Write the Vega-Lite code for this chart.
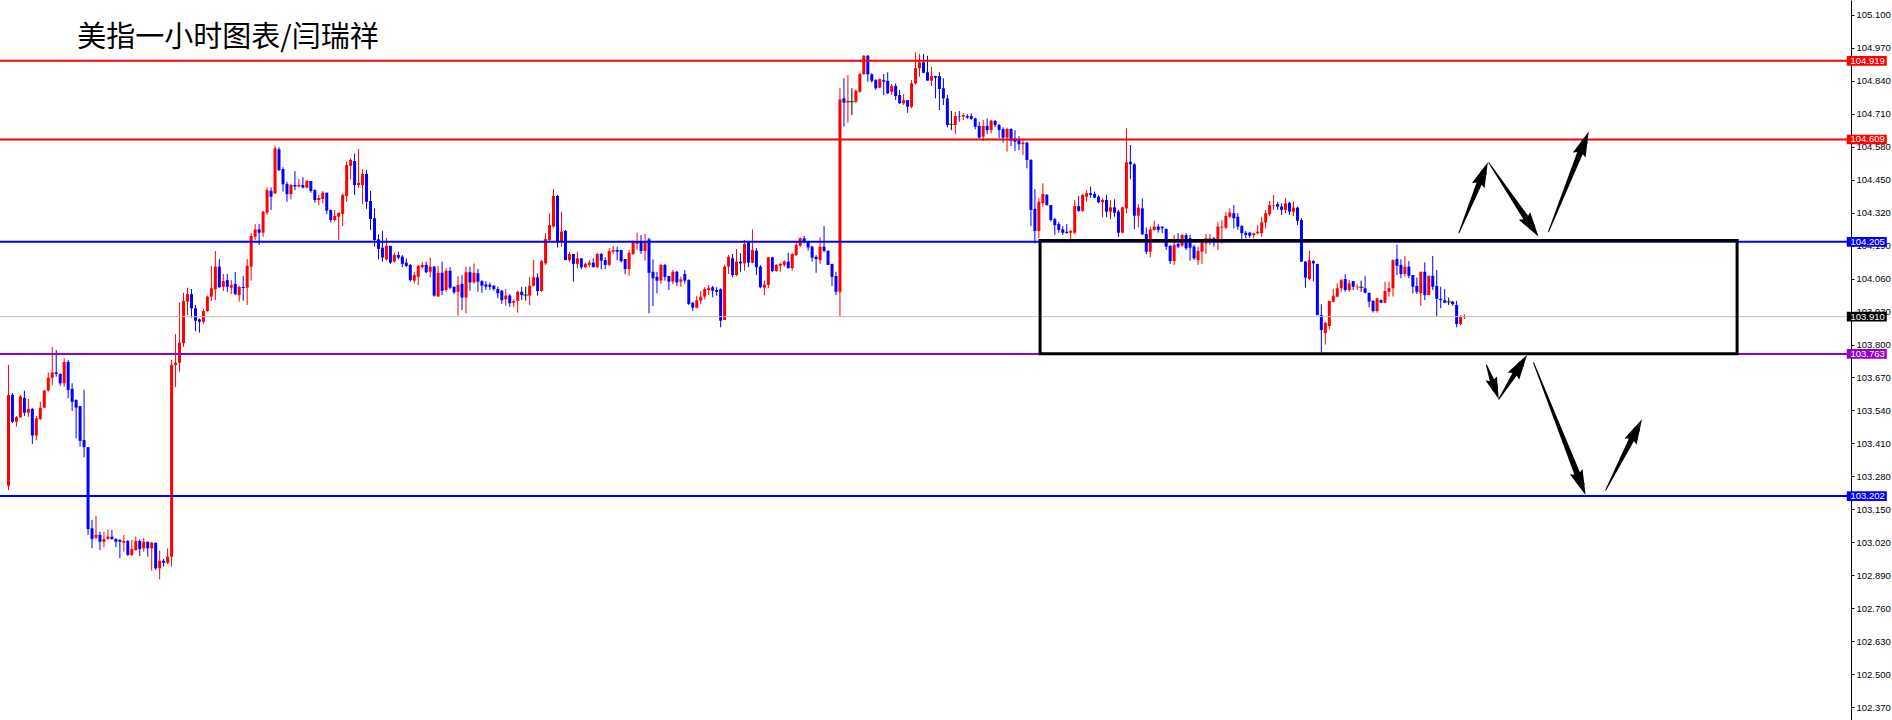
{
"$schema":"https://vega.github.io/schema/vega-lite/v6.json",
"width":1851,"height":720,"autosize":"none",
"padding":{"left":0,"top":0,"right":41,"bottom":0},
"background":"white",
"config":{"view":{"stroke":null},"axisY":{"title":null,"grid":false,"labelOverlap":false}},
"resolve":{"axis":{"y":"independent"}},
"datasets":{
"candles":[
{"i":0,"o":103.243,"h":103.719,"l":103.226,"c":103.601},
{"i":1,"o":103.601,"h":103.609,"l":103.490,"c":103.495},
{"i":2,"o":103.495,"h":103.518,"l":103.476,"c":103.513},
{"i":3,"o":103.513,"h":103.601,"l":103.510,"c":103.595},
{"i":4,"o":103.589,"h":103.618,"l":103.518,"c":103.531},
{"i":5,"o":103.531,"h":103.585,"l":103.515,"c":103.546},
{"i":6,"o":103.546,"h":103.550,"l":103.408,"c":103.441},
{"i":7,"o":103.441,"h":103.518,"l":103.423,"c":103.509},
{"i":8,"o":103.506,"h":103.574,"l":103.502,"c":103.551},
{"i":9,"o":103.551,"h":103.621,"l":103.550,"c":103.618},
{"i":10,"o":103.618,"h":103.690,"l":103.614,"c":103.669},
{"i":11,"o":103.669,"h":103.791,"l":103.640,"c":103.690},
{"i":12,"o":103.690,"h":103.778,"l":103.673,"c":103.684},
{"i":13,"o":103.684,"h":103.686,"l":103.637,"c":103.647},
{"i":14,"o":103.647,"h":103.746,"l":103.633,"c":103.731},
{"i":15,"o":103.731,"h":103.739,"l":103.588,"c":103.621},
{"i":16,"o":103.625,"h":103.647,"l":103.538,"c":103.574},
{"i":17,"o":103.581,"h":103.584,"l":103.430,"c":103.551},
{"i":18,"o":103.557,"h":103.557,"l":103.397,"c":103.420},
{"i":19,"o":103.423,"h":103.621,"l":103.355,"c":103.395},
{"i":20,"o":103.395,"h":103.395,"l":103.049,"c":103.072},
{"i":21,"o":103.075,"h":103.108,"l":102.996,"c":103.033},
{"i":22,"o":103.038,"h":103.124,"l":103.032,"c":103.049},
{"i":23,"o":103.049,"h":103.062,"l":102.989,"c":103.022},
{"i":24,"o":103.022,"h":103.062,"l":103.000,"c":103.033},
{"i":25,"o":103.033,"h":103.071,"l":103.029,"c":103.042},
{"i":26,"o":103.042,"h":103.068,"l":103.029,"c":103.033},
{"i":27,"o":103.033,"h":103.036,"l":103.000,"c":103.022},
{"i":28,"o":103.029,"h":103.032,"l":102.957,"c":103.022},
{"i":29,"o":103.018,"h":103.049,"l":102.983,"c":103.025},
{"i":30,"o":103.025,"h":103.029,"l":102.966,"c":102.970},
{"i":31,"o":102.970,"h":103.029,"l":102.966,"c":102.993},
{"i":32,"o":102.989,"h":103.042,"l":102.987,"c":103.025},
{"i":33,"o":103.025,"h":103.032,"l":102.966,"c":102.993},
{"i":34,"o":102.996,"h":103.036,"l":102.983,"c":103.022},
{"i":35,"o":103.022,"h":103.022,"l":102.963,"c":102.996},
{"i":36,"o":102.996,"h":103.022,"l":102.908,"c":103.018},
{"i":37,"o":103.018,"h":103.018,"l":102.911,"c":102.917},
{"i":38,"o":102.917,"h":102.987,"l":102.874,"c":102.947},
{"i":39,"o":102.947,"h":102.954,"l":102.924,"c":102.939},
{"i":40,"o":102.939,"h":102.996,"l":102.934,"c":102.963},
{"i":41,"o":102.963,"h":103.739,"l":102.924,"c":103.719},
{"i":42,"o":103.719,"h":103.841,"l":103.632,"c":103.728},
{"i":43,"o":103.728,"h":103.965,"l":103.693,"c":103.807},
{"i":44,"o":103.805,"h":104.004,"l":103.791,"c":103.972},
{"i":45,"o":103.969,"h":104.024,"l":103.916,"c":103.999},
{"i":46,"o":103.999,"h":104.019,"l":103.906,"c":103.943},
{"i":47,"o":103.943,"h":103.956,"l":103.853,"c":103.894},
{"i":48,"o":103.899,"h":103.903,"l":103.847,"c":103.890},
{"i":49,"o":103.890,"h":103.940,"l":103.881,"c":103.932},
{"i":50,"o":103.932,"h":103.993,"l":103.929,"c":103.989},
{"i":51,"o":103.989,"h":104.110,"l":103.972,"c":104.022},
{"i":52,"o":104.018,"h":104.169,"l":103.975,"c":104.107},
{"i":53,"o":104.107,"h":104.137,"l":104.022,"c":104.026},
{"i":54,"o":104.028,"h":104.078,"l":104.011,"c":104.050},
{"i":55,"o":104.054,"h":104.078,"l":104.008,"c":104.028},
{"i":56,"o":104.024,"h":104.054,"l":103.999,"c":104.035},
{"i":57,"o":104.039,"h":104.086,"l":103.995,"c":103.999},
{"i":58,"o":103.995,"h":104.031,"l":103.969,"c":104.027},
{"i":59,"o":104.027,"h":104.070,"l":103.973,"c":104.023},
{"i":60,"o":104.024,"h":104.137,"l":103.956,"c":104.110},
{"i":61,"o":104.107,"h":104.241,"l":104.052,"c":104.228},
{"i":62,"o":104.225,"h":104.275,"l":104.212,"c":104.254},
{"i":63,"o":104.254,"h":104.275,"l":104.193,"c":104.241},
{"i":64,"o":104.241,"h":104.327,"l":104.225,"c":104.324},
{"i":65,"o":104.320,"h":104.420,"l":104.311,"c":104.409},
{"i":66,"o":104.406,"h":104.420,"l":104.331,"c":104.383},
{"i":67,"o":104.396,"h":104.583,"l":104.394,"c":104.574},
{"i":68,"o":104.570,"h":104.578,"l":104.484,"c":104.488},
{"i":69,"o":104.492,"h":104.499,"l":104.403,"c":104.432},
{"i":70,"o":104.433,"h":104.442,"l":104.363,"c":104.393},
{"i":71,"o":104.393,"h":104.433,"l":104.373,"c":104.429},
{"i":72,"o":104.429,"h":104.484,"l":104.409,"c":104.423},
{"i":73,"o":104.423,"h":104.453,"l":104.420,"c":104.429},
{"i":74,"o":104.429,"h":104.460,"l":104.416,"c":104.419},
{"i":75,"o":104.419,"h":104.449,"l":104.416,"c":104.445},
{"i":76,"o":104.445,"h":104.445,"l":104.399,"c":104.406},
{"i":77,"o":104.409,"h":104.413,"l":104.359,"c":104.370},
{"i":78,"o":104.370,"h":104.390,"l":104.348,"c":104.378},
{"i":79,"o":104.374,"h":104.406,"l":104.357,"c":104.399},
{"i":80,"o":104.399,"h":104.399,"l":104.315,"c":104.328},
{"i":81,"o":104.331,"h":104.331,"l":104.281,"c":104.291},
{"i":82,"o":104.291,"h":104.331,"l":104.285,"c":104.307},
{"i":83,"o":104.304,"h":104.320,"l":104.212,"c":104.320},
{"i":84,"o":104.315,"h":104.396,"l":104.267,"c":104.390},
{"i":85,"o":104.386,"h":104.521,"l":104.363,"c":104.508},
{"i":86,"o":104.505,"h":104.535,"l":104.452,"c":104.528},
{"i":87,"o":104.524,"h":104.554,"l":104.390,"c":104.429},
{"i":88,"o":104.429,"h":104.571,"l":104.419,"c":104.438},
{"i":89,"o":104.429,"h":104.492,"l":104.354,"c":104.473},
{"i":90,"o":104.473,"h":104.488,"l":104.335,"c":104.363},
{"i":91,"o":104.366,"h":104.406,"l":104.252,"c":104.295},
{"i":92,"o":104.298,"h":104.337,"l":104.186,"c":104.212},
{"i":93,"o":104.215,"h":104.235,"l":104.136,"c":104.177},
{"i":94,"o":104.182,"h":104.248,"l":104.127,"c":104.143},
{"i":95,"o":104.136,"h":104.221,"l":104.131,"c":104.189},
{"i":96,"o":104.189,"h":104.189,"l":104.118,"c":104.123},
{"i":97,"o":104.127,"h":104.162,"l":104.123,"c":104.153},
{"i":98,"o":104.153,"h":104.166,"l":104.136,"c":104.143},
{"i":99,"o":104.147,"h":104.153,"l":104.105,"c":104.118},
{"i":100,"o":104.123,"h":104.140,"l":104.105,"c":104.110},
{"i":101,"o":104.114,"h":104.118,"l":104.048,"c":104.054},
{"i":102,"o":104.052,"h":104.087,"l":104.041,"c":104.074},
{"i":103,"o":104.067,"h":104.114,"l":104.035,"c":104.110},
{"i":104,"o":104.105,"h":104.127,"l":104.098,"c":104.114},
{"i":105,"o":104.114,"h":104.127,"l":104.081,"c":104.085},
{"i":106,"o":104.087,"h":104.143,"l":104.065,"c":104.107},
{"i":107,"o":104.107,"h":104.110,"l":103.989,"c":103.993},
{"i":108,"o":103.989,"h":104.110,"l":103.989,"c":104.083},
{"i":109,"o":104.083,"h":104.127,"l":103.995,"c":104.012},
{"i":110,"o":104.015,"h":104.101,"l":104.008,"c":104.091},
{"i":111,"o":104.091,"h":104.105,"l":104.018,"c":104.024},
{"i":112,"o":104.028,"h":104.028,"l":103.999,"c":104.006},
{"i":113,"o":104.008,"h":104.070,"l":103.914,"c":104.035},
{"i":114,"o":104.039,"h":104.074,"l":103.936,"c":103.985},
{"i":115,"o":103.985,"h":104.107,"l":103.923,"c":104.085},
{"i":116,"o":104.085,"h":104.107,"l":104.012,"c":104.045},
{"i":117,"o":104.045,"h":104.120,"l":104.041,"c":104.083},
{"i":118,"o":104.081,"h":104.098,"l":104.008,"c":104.048},
{"i":119,"o":104.050,"h":104.054,"l":104.004,"c":104.032},
{"i":120,"o":104.037,"h":104.050,"l":104.015,"c":104.028},
{"i":121,"o":104.036,"h":104.044,"l":104.015,"c":104.028},
{"i":122,"o":104.032,"h":104.035,"l":104.012,"c":104.019},
{"i":123,"o":104.019,"h":104.028,"l":103.982,"c":104.002},
{"i":124,"o":104.012,"h":104.015,"l":103.960,"c":103.975},
{"i":125,"o":103.978,"h":104.019,"l":103.953,"c":103.993},
{"i":126,"o":103.993,"h":103.999,"l":103.949,"c":103.963},
{"i":127,"o":103.965,"h":103.978,"l":103.947,"c":103.972},
{"i":128,"o":103.972,"h":104.012,"l":103.926,"c":104.008},
{"i":129,"o":104.008,"h":104.028,"l":103.975,"c":103.995},
{"i":130,"o":103.995,"h":104.028,"l":103.973,"c":103.995},
{"i":131,"o":103.993,"h":104.067,"l":103.956,"c":104.032},
{"i":132,"o":104.032,"h":104.133,"l":104.028,"c":104.065},
{"i":133,"o":104.065,"h":104.081,"l":103.993,"c":104.011},
{"i":134,"o":104.011,"h":104.133,"l":104.008,"c":104.129},
{"i":135,"o":104.120,"h":104.239,"l":104.114,"c":104.216},
{"i":136,"o":104.212,"h":104.318,"l":104.206,"c":104.271},
{"i":137,"o":104.265,"h":104.413,"l":104.262,"c":104.386},
{"i":138,"o":104.386,"h":104.390,"l":104.183,"c":104.206},
{"i":139,"o":104.206,"h":104.324,"l":104.186,"c":104.245},
{"i":140,"o":104.248,"h":104.252,"l":104.133,"c":104.133},
{"i":141,"o":104.133,"h":104.166,"l":104.127,"c":104.157},
{"i":142,"o":104.157,"h":104.157,"l":104.048,"c":104.118},
{"i":143,"o":104.118,"h":104.166,"l":104.101,"c":104.140},
{"i":144,"o":104.140,"h":104.140,"l":104.097,"c":104.105},
{"i":145,"o":104.105,"h":104.123,"l":104.101,"c":104.118},
{"i":146,"o":104.114,"h":104.133,"l":104.105,"c":104.123},
{"i":147,"o":104.123,"h":104.140,"l":104.105,"c":104.105},
{"i":148,"o":104.105,"h":104.162,"l":104.101,"c":104.157},
{"i":149,"o":104.157,"h":104.162,"l":104.097,"c":104.131},
{"i":150,"o":104.133,"h":104.144,"l":104.097,"c":104.114},
{"i":151,"o":104.114,"h":104.180,"l":104.110,"c":104.169},
{"i":152,"o":104.166,"h":104.189,"l":104.157,"c":104.173},
{"i":153,"o":104.173,"h":104.186,"l":104.133,"c":104.166},
{"i":154,"o":104.173,"h":104.173,"l":104.123,"c":104.129},
{"i":155,"o":104.137,"h":104.137,"l":104.078,"c":104.098},
{"i":156,"o":104.098,"h":104.173,"l":104.071,"c":104.162},
{"i":157,"o":104.157,"h":104.210,"l":104.153,"c":104.202},
{"i":158,"o":104.197,"h":104.241,"l":104.173,"c":104.206},
{"i":159,"o":104.206,"h":104.232,"l":104.157,"c":104.169},
{"i":160,"o":104.169,"h":104.236,"l":104.131,"c":104.208},
{"i":161,"o":104.215,"h":104.221,"l":103.923,"c":104.083},
{"i":162,"o":104.087,"h":104.136,"l":103.952,"c":104.061},
{"i":163,"o":104.067,"h":104.087,"l":104.002,"c":104.052},
{"i":164,"o":104.052,"h":104.118,"l":104.039,"c":104.114},
{"i":165,"o":104.114,"h":104.118,"l":104.052,"c":104.067},
{"i":166,"o":104.070,"h":104.070,"l":104.015,"c":104.048},
{"i":167,"o":104.048,"h":104.094,"l":104.037,"c":104.087},
{"i":168,"o":104.087,"h":104.091,"l":104.031,"c":104.045},
{"i":169,"o":104.048,"h":104.067,"l":104.028,"c":104.057},
{"i":170,"o":104.078,"h":104.094,"l":104.041,"c":104.052},
{"i":171,"o":104.054,"h":104.057,"l":103.956,"c":103.960},
{"i":172,"o":103.965,"h":103.969,"l":103.932,"c":103.945},
{"i":173,"o":103.945,"h":103.991,"l":103.943,"c":103.975},
{"i":174,"o":103.973,"h":104.011,"l":103.960,"c":103.989},
{"i":175,"o":103.989,"h":104.026,"l":103.978,"c":104.019},
{"i":176,"o":104.015,"h":104.035,"l":103.995,"c":104.024},
{"i":177,"o":104.026,"h":104.031,"l":103.986,"c":104.012},
{"i":178,"o":104.015,"h":104.026,"l":103.993,"c":104.008},
{"i":179,"o":104.018,"h":104.022,"l":103.868,"c":103.894},
{"i":180,"o":103.897,"h":104.114,"l":103.897,"c":104.107},
{"i":181,"o":104.107,"h":104.153,"l":104.078,"c":104.146},
{"i":182,"o":104.140,"h":104.157,"l":104.065,"c":104.074},
{"i":183,"o":104.074,"h":104.177,"l":104.070,"c":104.127},
{"i":184,"o":104.127,"h":104.160,"l":104.087,"c":104.120},
{"i":185,"o":104.120,"h":104.212,"l":104.091,"c":104.197},
{"i":186,"o":104.202,"h":104.208,"l":104.105,"c":104.123},
{"i":187,"o":104.123,"h":104.254,"l":104.120,"c":104.173},
{"i":188,"o":104.170,"h":104.180,"l":104.074,"c":104.105},
{"i":189,"o":104.107,"h":104.114,"l":104.022,"c":104.026},
{"i":190,"o":104.024,"h":104.052,"l":103.995,"c":104.037},
{"i":191,"o":104.035,"h":104.146,"l":104.022,"c":104.144},
{"i":192,"o":104.144,"h":104.144,"l":104.085,"c":104.090},
{"i":193,"o":104.090,"h":104.118,"l":104.087,"c":104.114},
{"i":194,"o":104.111,"h":104.123,"l":104.087,"c":104.118},
{"i":195,"o":104.114,"h":104.133,"l":104.107,"c":104.127},
{"i":196,"o":104.127,"h":104.162,"l":104.101,"c":104.101},
{"i":197,"o":104.101,"h":104.162,"l":104.091,"c":104.157},
{"i":198,"o":104.153,"h":104.208,"l":104.149,"c":104.193},
{"i":199,"o":104.190,"h":104.223,"l":104.183,"c":104.219},
{"i":200,"o":104.219,"h":104.228,"l":104.199,"c":104.208},
{"i":201,"o":104.208,"h":104.208,"l":104.170,"c":104.183},
{"i":202,"o":104.186,"h":104.189,"l":104.127,"c":104.143},
{"i":203,"o":104.146,"h":104.153,"l":104.083,"c":104.137},
{"i":204,"o":104.133,"h":104.223,"l":104.118,"c":104.186},
{"i":205,"o":104.186,"h":104.267,"l":104.164,"c":104.169},
{"i":206,"o":104.170,"h":104.170,"l":104.114,"c":104.114},
{"i":207,"o":104.118,"h":104.118,"l":104.031,"c":104.067},
{"i":208,"o":104.070,"h":104.087,"l":103.995,"c":104.008},
{"i":209,"o":104.008,"h":104.811,"l":103.913,"c":104.767},
{"i":210,"o":104.771,"h":104.850,"l":104.659,"c":104.754},
{"i":211,"o":104.754,"h":104.863,"l":104.675,"c":104.761},
{"i":212,"o":104.758,"h":104.811,"l":104.705,"c":104.758},
{"i":213,"o":104.758,"h":104.807,"l":104.752,"c":104.801},
{"i":214,"o":104.797,"h":104.872,"l":104.793,"c":104.867},
{"i":215,"o":104.867,"h":104.942,"l":104.863,"c":104.939},
{"i":216,"o":104.939,"h":104.942,"l":104.837,"c":104.866},
{"i":217,"o":104.866,"h":104.870,"l":104.833,"c":104.840},
{"i":218,"o":104.843,"h":104.847,"l":104.804,"c":104.811},
{"i":219,"o":104.813,"h":104.850,"l":104.811,"c":104.847},
{"i":220,"o":104.843,"h":104.867,"l":104.784,"c":104.837},
{"i":221,"o":104.840,"h":104.874,"l":104.788,"c":104.791},
{"i":222,"o":104.797,"h":104.828,"l":104.784,"c":104.820},
{"i":223,"o":104.820,"h":104.830,"l":104.764,"c":104.780},
{"i":224,"o":104.784,"h":104.804,"l":104.749,"c":104.752},
{"i":225,"o":104.752,"h":104.788,"l":104.745,"c":104.764},
{"i":226,"o":104.764,"h":104.764,"l":104.714,"c":104.738},
{"i":227,"o":104.738,"h":104.843,"l":104.732,"c":104.830},
{"i":228,"o":104.830,"h":104.953,"l":104.826,"c":104.890},
{"i":229,"o":104.890,"h":104.946,"l":104.856,"c":104.913},
{"i":230,"o":104.913,"h":104.946,"l":104.870,"c":104.872},
{"i":231,"o":104.874,"h":104.939,"l":104.841,"c":104.841},
{"i":232,"o":104.841,"h":104.896,"l":104.820,"c":104.859},
{"i":233,"o":104.859,"h":104.859,"l":104.771,"c":104.852},
{"i":234,"o":104.859,"h":104.874,"l":104.725,"c":104.808},
{"i":235,"o":104.811,"h":104.850,"l":104.745,"c":104.771},
{"i":236,"o":104.771,"h":104.784,"l":104.657,"c":104.666},
{"i":237,"o":104.669,"h":104.721,"l":104.646,"c":104.669},
{"i":238,"o":104.666,"h":104.718,"l":104.630,"c":104.701},
{"i":239,"o":104.701,"h":104.721,"l":104.679,"c":104.699},
{"i":240,"o":104.699,"h":104.712,"l":104.686,"c":104.705},
{"i":241,"o":104.701,"h":104.709,"l":104.690,"c":104.695},
{"i":242,"o":104.701,"h":104.712,"l":104.686,"c":104.690},
{"i":243,"o":104.692,"h":104.695,"l":104.649,"c":104.659},
{"i":244,"o":104.662,"h":104.679,"l":104.613,"c":104.616},
{"i":245,"o":104.620,"h":104.686,"l":104.603,"c":104.662},
{"i":246,"o":104.662,"h":104.692,"l":104.630,"c":104.646},
{"i":247,"o":104.646,"h":104.686,"l":104.633,"c":104.683},
{"i":248,"o":104.682,"h":104.686,"l":104.657,"c":104.666},
{"i":249,"o":104.666,"h":104.670,"l":104.613,"c":104.646},
{"i":250,"o":104.649,"h":104.657,"l":104.596,"c":104.616},
{"i":251,"o":104.616,"h":104.655,"l":104.561,"c":104.650},
{"i":252,"o":104.650,"h":104.653,"l":104.583,"c":104.603},
{"i":253,"o":104.613,"h":104.646,"l":104.564,"c":104.600},
{"i":254,"o":104.607,"h":104.622,"l":104.567,"c":104.590},
{"i":255,"o":104.590,"h":104.609,"l":104.548,"c":104.596},
{"i":256,"o":104.596,"h":104.600,"l":104.495,"c":104.528},
{"i":257,"o":104.528,"h":104.531,"l":104.267,"c":104.331},
{"i":258,"o":104.335,"h":104.413,"l":104.199,"c":104.248},
{"i":259,"o":104.248,"h":104.377,"l":104.219,"c":104.363},
{"i":260,"o":104.357,"h":104.436,"l":104.344,"c":104.394},
{"i":261,"o":104.390,"h":104.394,"l":104.348,"c":104.350},
{"i":262,"o":104.350,"h":104.350,"l":104.285,"c":104.291},
{"i":263,"o":104.294,"h":104.300,"l":104.232,"c":104.271},
{"i":264,"o":104.275,"h":104.284,"l":104.241,"c":104.252},
{"i":265,"o":104.254,"h":104.267,"l":104.232,"c":104.241},
{"i":266,"o":104.245,"h":104.275,"l":104.239,"c":104.239},
{"i":267,"o":104.241,"h":104.252,"l":104.203,"c":104.248},
{"i":268,"o":104.241,"h":104.370,"l":104.236,"c":104.346},
{"i":269,"o":104.346,"h":104.386,"l":104.324,"c":104.327},
{"i":270,"o":104.327,"h":104.394,"l":104.324,"c":104.390},
{"i":271,"o":104.383,"h":104.409,"l":104.363,"c":104.397},
{"i":272,"o":104.397,"h":104.423,"l":104.379,"c":104.390},
{"i":273,"o":104.394,"h":104.403,"l":104.377,"c":104.379},
{"i":274,"o":104.383,"h":104.390,"l":104.357,"c":104.361},
{"i":275,"o":104.361,"h":104.377,"l":104.302,"c":104.370},
{"i":276,"o":104.370,"h":104.390,"l":104.302,"c":104.324},
{"i":277,"o":104.324,"h":104.370,"l":104.294,"c":104.341},
{"i":278,"o":104.341,"h":104.373,"l":104.304,"c":104.320},
{"i":279,"o":104.324,"h":104.331,"l":104.223,"c":104.241},
{"i":280,"o":104.241,"h":104.344,"l":104.239,"c":104.341},
{"i":281,"o":104.337,"h":104.653,"l":104.318,"c":104.519},
{"i":282,"o":104.521,"h":104.587,"l":104.452,"c":104.511},
{"i":283,"o":104.511,"h":104.515,"l":104.254,"c":104.308},
{"i":284,"o":104.308,"h":104.354,"l":104.262,"c":104.340},
{"i":285,"o":104.337,"h":104.377,"l":104.232,"c":104.235},
{"i":286,"o":104.236,"h":104.262,"l":104.156,"c":104.166},
{"i":287,"o":104.166,"h":104.265,"l":104.144,"c":104.254},
{"i":288,"o":104.252,"h":104.288,"l":104.249,"c":104.265},
{"i":289,"o":104.265,"h":104.275,"l":104.241,"c":104.252},
{"i":290,"o":104.265,"h":104.267,"l":104.239,"c":104.258},
{"i":291,"o":104.256,"h":104.258,"l":104.173,"c":104.186},
{"i":292,"o":104.189,"h":104.193,"l":104.118,"c":104.129},
{"i":293,"o":104.129,"h":104.232,"l":104.114,"c":104.193},
{"i":294,"o":104.197,"h":104.239,"l":104.180,"c":104.186},
{"i":295,"o":104.190,"h":104.236,"l":104.186,"c":104.232},
{"i":296,"o":104.232,"h":104.239,"l":104.173,"c":104.180},
{"i":297,"o":104.219,"h":104.232,"l":104.131,"c":104.182},
{"i":298,"o":104.186,"h":104.193,"l":104.133,"c":104.140},
{"i":299,"o":104.133,"h":104.186,"l":104.114,"c":104.169},
{"i":300,"o":104.166,"h":104.212,"l":104.118,"c":104.202},
{"i":301,"o":104.199,"h":104.236,"l":104.157,"c":104.219},
{"i":302,"o":104.212,"h":104.236,"l":104.193,"c":104.219},
{"i":303,"o":104.219,"h":104.225,"l":104.186,"c":104.206},
{"i":304,"o":104.212,"h":104.283,"l":104.173,"c":104.265},
{"i":305,"o":104.261,"h":104.291,"l":104.197,"c":104.265},
{"i":306,"o":104.261,"h":104.322,"l":104.256,"c":104.307},
{"i":307,"o":104.304,"h":104.337,"l":104.298,"c":104.320},
{"i":308,"o":104.318,"h":104.350,"l":104.258,"c":104.298},
{"i":309,"o":104.304,"h":104.318,"l":104.252,"c":104.265},
{"i":310,"o":104.267,"h":104.271,"l":104.215,"c":104.239},
{"i":311,"o":104.241,"h":104.248,"l":104.219,"c":104.232},
{"i":312,"o":104.241,"h":104.245,"l":104.221,"c":104.229},
{"i":313,"o":104.232,"h":104.241,"l":104.219,"c":104.239},
{"i":314,"o":104.239,"h":104.271,"l":104.235,"c":104.245},
{"i":315,"o":104.239,"h":104.304,"l":104.225,"c":104.282},
{"i":316,"o":104.282,"h":104.331,"l":104.258,"c":104.318},
{"i":317,"o":104.314,"h":104.366,"l":104.307,"c":104.350},
{"i":318,"o":104.348,"h":104.390,"l":104.331,"c":104.350},
{"i":319,"o":104.354,"h":104.363,"l":104.331,"c":104.344},
{"i":320,"o":104.344,"h":104.357,"l":104.311,"c":104.331},
{"i":321,"o":104.331,"h":104.377,"l":104.318,"c":104.357},
{"i":322,"o":104.359,"h":104.363,"l":104.311,"c":104.324},
{"i":323,"o":104.324,"h":104.363,"l":104.307,"c":104.340},
{"i":324,"o":104.340,"h":104.344,"l":104.271,"c":104.288},
{"i":325,"o":104.291,"h":104.299,"l":104.126,"c":104.127},
{"i":326,"o":104.127,"h":104.129,"l":104.024,"c":104.064},
{"i":327,"o":104.058,"h":104.169,"l":104.054,"c":104.133},
{"i":328,"o":104.129,"h":104.133,"l":104.050,"c":104.120},
{"i":329,"o":104.118,"h":104.118,"l":103.916,"c":103.916},
{"i":330,"o":103.916,"h":103.959,"l":103.769,"c":103.857},
{"i":331,"o":103.845,"h":103.890,"l":103.800,"c":103.885},
{"i":332,"o":103.873,"h":103.972,"l":103.860,"c":103.972},
{"i":333,"o":103.969,"h":104.019,"l":103.965,"c":103.991},
{"i":334,"o":103.989,"h":104.041,"l":103.986,"c":104.022},
{"i":335,"o":104.022,"h":104.058,"l":104.008,"c":104.054},
{"i":336,"o":104.058,"h":104.077,"l":104.008,"c":104.015},
{"i":337,"o":104.015,"h":104.054,"l":104.008,"c":104.041},
{"i":338,"o":104.050,"h":104.050,"l":104.015,"c":104.028},
{"i":339,"o":104.026,"h":104.037,"l":104.015,"c":104.028},
{"i":340,"o":104.026,"h":104.052,"l":104.008,"c":104.026},
{"i":341,"o":104.022,"h":104.070,"l":104.002,"c":104.004},
{"i":342,"o":104.004,"h":104.004,"l":103.947,"c":103.969},
{"i":343,"o":103.973,"h":103.973,"l":103.926,"c":103.932},
{"i":344,"o":103.932,"h":103.985,"l":103.926,"c":103.982},
{"i":345,"o":103.975,"h":103.978,"l":103.963,"c":103.965},
{"i":346,"o":103.965,"h":104.048,"l":103.963,"c":104.011},
{"i":347,"o":104.008,"h":104.048,"l":103.989,"c":104.022},
{"i":348,"o":104.022,"h":104.136,"l":103.989,"c":104.133},
{"i":349,"o":104.137,"h":104.193,"l":104.074,"c":104.111},
{"i":350,"o":104.114,"h":104.136,"l":104.061,"c":104.078},
{"i":351,"o":104.078,"h":104.149,"l":104.067,"c":104.107},
{"i":352,"o":104.107,"h":104.129,"l":104.061,"c":104.071},
{"i":353,"o":104.074,"h":104.074,"l":104.002,"c":104.028},
{"i":354,"o":104.031,"h":104.064,"l":103.999,"c":104.008},
{"i":355,"o":104.002,"h":104.087,"l":103.953,"c":104.087},
{"i":356,"o":104.087,"h":104.124,"l":103.975,"c":103.995},
{"i":357,"o":103.995,"h":104.071,"l":103.995,"c":104.071},
{"i":358,"o":104.071,"h":104.149,"l":104.015,"c":104.028},
{"i":359,"o":104.031,"h":104.094,"l":103.910,"c":103.980},
{"i":360,"o":103.980,"h":104.028,"l":103.943,"c":103.975},
{"i":361,"o":103.975,"h":104.019,"l":103.963,"c":103.965},
{"i":362,"o":103.968,"h":103.985,"l":103.956,"c":103.968},
{"i":363,"o":103.969,"h":103.972,"l":103.953,"c":103.959},
{"i":364,"o":103.956,"h":103.972,"l":103.868,"c":103.881},
{"i":365,"o":103.881,"h":103.916,"l":103.877,"c":103.910},
{"i":366,"o":103.908,"h":103.918,"l":103.901,"c":103.910}
],
"levels":[
{"p":104.919,"kind":"resistance"},
{"p":104.609,"kind":"resistance"},
{"p":104.205,"kind":"support"},
{"p":103.910,"kind":"current"},
{"p":103.763,"kind":"pivot"},
{"p":103.202,"kind":"support"}
],
"box":[{"i1":259.3,"i2":434.5,"p1":103.764,"p2":104.210}],
"shafts":[
{"id":"A","t":0,"i":364.6,"p":104.241},{"id":"A","t":1,"i":370.7,"p":104.475},
{"id":"B","t":0,"i":372.1,"p":104.517},{"id":"B","t":1,"i":382.9,"p":104.265},
{"id":"C","t":0,"i":387.1,"p":104.245},{"id":"C","t":1,"i":396.05,"p":104.596},
{"id":"D","t":0,"i":371.5,"p":103.719},{"id":"D","t":1,"i":373.6,"p":103.628},
{"id":"E","t":0,"i":374.6,"p":103.584},{"id":"E","t":1,"i":380.05,"p":103.719},
{"id":"F","t":0,"i":383.35,"p":103.728},{"id":"F","t":1,"i":395.3,"p":103.251},
{"id":"G","t":0,"i":401.5,"p":103.226},{"id":"G","t":1,"i":409.2,"p":103.463}
],
"heads":[
{"id":"A","i":371.85,"p":104.519},
{"id":"B","i":384.6,"p":104.225},
{"id":"C","i":397.2,"p":104.640},
{"id":"D","i":374.6,"p":103.584},
{"id":"E","i":381.7,"p":103.759},
{"id":"F","i":396.4,"p":103.206},
{"id":"G","i":410.6,"p":103.505}
]
},
"layer":[
{"data":{"name":"candles"},
 "mark":{"type":"rule","strokeWidth":1},
 "encoding":{
  "x":{"field":"i","type":"quantitative","scale":{"domain":[-0.875,461.875],"nice":false,"zero":false},"axis":null},
  "y":{"field":"l","type":"quantitative","title":null,"scale":{"domain":[102.3188,105.159],"nice":false,"zero":false},
   "axis":{"orient":"right","title":null,"grid":false,"values":[102.37,102.5,102.63,102.76,102.89,103.02,103.15,103.28,103.41,103.54,103.67,103.8,103.93,104.06,104.19,104.32,104.45,104.58,104.71,104.84,104.97,105.1],
    "format":".3f","labelFont":"Liberation Sans","labelFontSize":9.5,"labelColor":"#000000","tickColor":"#000000","tickSize":3,"domainColor":"#000000","domainWidth":1,"labelPadding":2,"labelFlush":false,"labelOverlap":false,"labelBaseline":"middle","labelAlign":"left"}},
  "y2":{"field":"h"},
  "color":{"condition":[{"test":"datum.c > datum.o","value":"#ff0000"},{"test":"datum.c < datum.o","value":"#0000ff"}],"value":"#000000"}
 }},
{"data":{"name":"candles"},
 "mark":{"type":"bar","size":3,"orient":"vertical"},
 "encoding":{
  "x":{"field":"i","type":"quantitative","scale":{"domain":[-0.875,461.875],"nice":false,"zero":false},"axis":null},
  "y":{"field":"o","type":"quantitative","scale":{"domain":[102.3188,105.159],"nice":false,"zero":false},"axis":null},
  "y2":{"field":"c"},
  "color":{"condition":[{"test":"datum.c > datum.o","value":"#ff0000"},{"test":"datum.c < datum.o","value":"#0000ff"}],"value":"#000000"}
 }},
{"data":{"name":"candles"},
 "transform":[{"filter":"datum.o == datum.c"}],
 "mark":{"type":"tick","orient":"horizontal","size":5,"thickness":1,"color":"#000000"},
 "encoding":{
  "x":{"field":"i","type":"quantitative","scale":{"domain":[-0.875,461.875],"nice":false,"zero":false},"axis":null},
  "y":{"field":"c","type":"quantitative","scale":{"domain":[102.3188,105.159],"nice":false,"zero":false},"axis":null}
 }},
{"data":{"name":"levels"},
 "transform":[{"filter":"datum.kind == 'current'"}],
 "mark":{"type":"rule","strokeWidth":1,"color":"#c0c0c0"},
 "encoding":{
  "y":{"field":"p","type":"quantitative","scale":{"domain":[102.3188,105.159],"nice":false,"zero":false},"axis":null}
 }},
{"data":{"name":"levels"},
 "transform":[{"filter":"datum.kind != 'current'"}],
 "mark":{"type":"rule","strokeWidth":2},
 "encoding":{
  "y":{"field":"p","type":"quantitative","scale":{"domain":[102.3188,105.159],"nice":false,"zero":false},"axis":null},
  "color":{"field":"kind","type":"nominal","scale":{"domain":["resistance","support","pivot","current"],"range":["#ff0000","#0000ff","#9400d3","#000000"]},"legend":null}
 }},
{"data":{"name":"box"},
 "mark":{"type":"rect","fill":"transparent","stroke":"#000000","strokeWidth":3},
 "encoding":{
  "x":{"field":"i1","type":"quantitative","scale":{"domain":[-0.875,461.875],"nice":false,"zero":false},"axis":null},
  "x2":{"field":"i2"},
  "y":{"field":"p1","type":"quantitative","scale":{"domain":[102.3188,105.159],"nice":false,"zero":false},"axis":null},
  "y2":{"field":"p2"}
 }},
{"data":{"name":"shafts"},
 "mark":{"type":"trail","color":"#000000"},
 "encoding":{
  "x":{"field":"i","type":"quantitative","scale":{"domain":[-0.875,461.875],"nice":false,"zero":false},"axis":null},
  "y":{"field":"p","type":"quantitative","scale":{"domain":[102.3188,105.159],"nice":false,"zero":false},"axis":null},
  "detail":{"field":"id","type":"nominal"},
  "order":{"field":"t","type":"quantitative"},
  "size":{"field":"t","type":"quantitative","scale":{"domain":[0,1],"range":[1,6.5]},"legend":null}
 }},
{"data":{"name":"heads"},"transform":[{"filter":"datum.id == 'A'"}],
 "mark":{"type":"point","shape":"M0,0L0.38,1.4L0,1.2L-0.38,1.4Z","size":1300,"filled":true,"opacity":1,"color":"#000000","angle":22.4},
 "encoding":{"x":{"field":"i","type":"quantitative","scale":{"domain":[-0.875,461.875],"nice":false,"zero":false},"axis":null},
  "y":{"field":"p","type":"quantitative","scale":{"domain":[102.3188,105.159],"nice":false,"zero":false},"axis":null}}},
{"data":{"name":"heads"},"transform":[{"filter":"datum.id == 'B'"}],
 "mark":{"type":"point","shape":"M0,0L0.38,1.4L0,1.2L-0.38,1.4Z","size":1300,"filled":true,"opacity":1,"color":"#000000","angle":146},
 "encoding":{"x":{"field":"i","type":"quantitative","scale":{"domain":[-0.875,461.875],"nice":false,"zero":false},"axis":null},
  "y":{"field":"p","type":"quantitative","scale":{"domain":[102.3188,105.159],"nice":false,"zero":false},"axis":null}}},
{"data":{"name":"heads"},"transform":[{"filter":"datum.id == 'C'"}],
 "mark":{"type":"point","shape":"M0,0L0.38,1.4L0,1.2L-0.38,1.4Z","size":1300,"filled":true,"opacity":1,"color":"#000000","angle":22},
 "encoding":{"x":{"field":"i","type":"quantitative","scale":{"domain":[-0.875,461.875],"nice":false,"zero":false},"axis":null},
  "y":{"field":"p","type":"quantitative","scale":{"domain":[102.3188,105.159],"nice":false,"zero":false},"axis":null}}},
{"data":{"name":"heads"},"transform":[{"filter":"datum.id == 'D'"}],
 "mark":{"type":"point","shape":"M0,0L0.38,1.4L0,1.2L-0.38,1.4Z","size":1000,"filled":true,"opacity":1,"color":"#000000","angle":160},
 "encoding":{"x":{"field":"i","type":"quantitative","scale":{"domain":[-0.875,461.875],"nice":false,"zero":false},"axis":null},
  "y":{"field":"p","type":"quantitative","scale":{"domain":[102.3188,105.159],"nice":false,"zero":false},"axis":null}}},
{"data":{"name":"heads"},"transform":[{"filter":"datum.id == 'E'"}],
 "mark":{"type":"point","shape":"M0,0L0.38,1.4L0,1.2L-0.38,1.4Z","size":1300,"filled":true,"opacity":1,"color":"#000000","angle":32.6},
 "encoding":{"x":{"field":"i","type":"quantitative","scale":{"domain":[-0.875,461.875],"nice":false,"zero":false},"axis":null},
  "y":{"field":"p","type":"quantitative","scale":{"domain":[102.3188,105.159],"nice":false,"zero":false},"axis":null}}},
{"data":{"name":"heads"},"transform":[{"filter":"datum.id == 'F'"}],
 "mark":{"type":"point","shape":"M0,0L0.38,1.4L0,1.2L-0.38,1.4Z","size":1300,"filled":true,"opacity":1,"color":"#000000","angle":158.4},
 "encoding":{"x":{"field":"i","type":"quantitative","scale":{"domain":[-0.875,461.875],"nice":false,"zero":false},"axis":null},
  "y":{"field":"p","type":"quantitative","scale":{"domain":[102.3188,105.159],"nice":false,"zero":false},"axis":null}}},
{"data":{"name":"heads"},"transform":[{"filter":"datum.id == 'G'"}],
 "mark":{"type":"point","shape":"M0,0L0.38,1.4L0,1.2L-0.38,1.4Z","size":1300,"filled":true,"opacity":1,"color":"#000000","angle":27.2},
 "encoding":{"x":{"field":"i","type":"quantitative","scale":{"domain":[-0.875,461.875],"nice":false,"zero":false},"axis":null},
  "y":{"field":"p","type":"quantitative","scale":{"domain":[102.3188,105.159],"nice":false,"zero":false},"axis":null}}},
{"data":{"name":"levels"},
 "mark":{"type":"point","shape":"M-1,-0.24H1V0.24H-1Z","size":1600,"filled":true,"opacity":1,"strokeWidth":0},
 "encoding":{
  "x":{"datum":467.1,"type":"quantitative","scale":{"domain":[-0.875,461.875],"nice":false,"zero":false},"axis":null},
  "y":{"field":"p","type":"quantitative","scale":{"domain":[102.3188,105.159],"nice":false,"zero":false},"axis":null},
  "color":{"field":"kind","type":"nominal","scale":{"domain":["resistance","support","pivot","current"],"range":["#ff0000","#0000ff","#9400d3","#000000"]},"legend":null}
 }},
{"data":{"name":"levels"},
 "mark":{"type":"text","font":"Liberation Sans","fontSize":9.5,"color":"#ffffff","align":"center","baseline":"middle"},
 "encoding":{
  "x":{"datum":467.3,"type":"quantitative","scale":{"domain":[-0.875,461.875],"nice":false,"zero":false},"axis":null},
  "y":{"field":"p","type":"quantitative","scale":{"domain":[102.3188,105.159],"nice":false,"zero":false},"axis":null},
  "text":{"field":"p","type":"quantitative","format":".3f"}
 }},
{"data":{"values":[{"label":"美指一小时图表/闫瑞祥"}]},
 "mark":{"type":"text","font":"Noto Sans CJK SC","fontSize":29,"color":"#000000","align":"left","baseline":"middle"},
 "encoding":{
  "x":{"datum":17.3,"type":"quantitative","scale":{"domain":[-0.875,461.875],"nice":false,"zero":false},"axis":null},
  "y":{"datum":105.01,"type":"quantitative","scale":{"domain":[102.3188,105.159],"nice":false,"zero":false},"axis":null},
  "text":{"field":"label"}
 }}
]
}
